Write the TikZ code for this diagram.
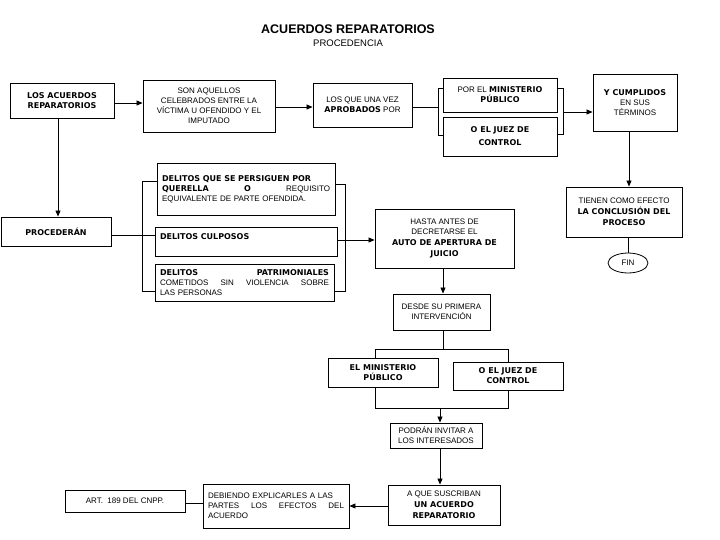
\documentclass[tikz,border=0pt]{standalone}
\usepackage{fontspec}
\setmainfont[BoldFont={DejaVu Sans Bold}]{Liberation Sans}
\usetikzlibrary{arrows.meta,shapes.geometric}
\tikzset{
  box/.style={draw, line width=0.9pt, fill=white, inner sep=2pt, font=\fontsize{8}{10}\selectfont, align=center},
  conn/.style={line width=0.8pt},
  arr/.style={line width=0.8pt, -{Triangle[length=6pt,width=5pt]}}
}
\begin{document}
\begin{tikzpicture}[x=1pt,y=-1pt]
\useasboundingbox (0,0) rectangle (720,540);
% title
\node[font=\fontsize{12.5}{14}\selectfont] (t1) at (348,29) {\fontspec{Liberation Sans Bold}ACUERDOS REPARATORIOS};
\node[font=\fontsize{9.5}{11}\selectfont] (t2) at (348,43) {PROCEDENCIA};

% bracket coordinates
\coordinate (bl1) at (438,88); \coordinate (bl2) at (438,135);
\coordinate (br1) at (563,88); \coordinate (br2) at (563,134);
\coordinate (dl1) at (142,181); \coordinate (dl2) at (142,291);
\coordinate (dr1) at (345,184); \coordinate (dr2) at (345,291);
\coordinate (ml1) at (375,349); \coordinate (ml2) at (375,408);
\coordinate (mr1) at (508,349); \coordinate (mr2) at (508,408);

% brackets drawn first (behind boxes)
\draw[conn] (448,88) -- (bl1) -- (bl2) -- (448,135);
\draw[conn] (552,88) -- (br1) -- (br2) -- (552,134);
\draw[conn] (160,181) -- (dl1) -- (dl2) -- (160,291);
\draw[conn] (330,184) -- (dr1) -- (dr2) -- (330,291);
\draw[conn] (ml1) -- (mr1);
\draw[conn] (ml1) -- (ml2) -- (mr2) -- (mr1);

% nodes
\node[box, minimum width=104pt, minimum height=35pt] (a) at (62,100.5) {\textbf{LOS ACUERDOS}\\\textbf{REPARATORIOS}};
\node[box, minimum width=132pt, minimum height=52pt] (b) at (209,106) {SON AQUELLOS\\CELEBRADOS ENTRE LA\\VÍCTIMA U OFENDIDO Y EL\\IMPUTADO};
\node[box, minimum width=99pt, minimum height=44pt] (c) at (362.5,105) {LOS QUE UNA VEZ\\\textbf{APROBADOS} POR};
\node[box, minimum width=114pt, minimum height=34pt] (d) at (500,95) {POR EL \textbf{MINISTERIO}\\\textbf{PÚBLICO}};
\node[box, minimum width=114pt, minimum height=39pt] (e) at (500,136.5) {\textbf{O EL JUEZ DE}\\[3pt]\textbf{CONTROL}};
\node[box, minimum width=84pt, minimum height=57pt] (f) at (635,102.5) {\textbf{Y CUMPLIDOS}\\EN SUS\\TÉRMINOS};
\node[box, minimum width=116pt, minimum height=50pt] (g) at (624,212) {TIENEN COMO EFECTO\\[1pt]\textbf{LA CONCLUSIÓN DEL}\\[1pt]\textbf{PROCESO}};
\node[box, ellipse, line width=0.8pt, minimum width=40pt, minimum height=20pt, inner sep=0pt] (fin) at (628,263) {FIN};
\node[box, minimum width=110pt, minimum height=29pt] (h) at (56,231.5) {\textbf{PROCEDERÁN}};
\node[box, minimum width=178pt, minimum height=52pt, text width=168pt, align=left] (i) at (246,189) {\textbf{DELITOS QUE SE PERSIGUEN POR}\\\textbf{QUERELLA}\hfill\textbf{O}\hfill REQUISITO\\EQUIVALENTE DE PARTE OFENDIDA.};
\node[box, minimum width=182pt, minimum height=29pt, text width=172pt, align=left] (j) at (246,241.5) {\textbf{DELITOS CULPOSOS}\\\mbox{}};
\node[box, minimum width=179pt, minimum height=37pt, text width=169pt, align=left] (k) at (244.5,282.5) {\textbf{DELITOS}\hfill\textbf{PATRIMONIALES}\\COMETIDOS\hfill SIN\hfill VIOLENCIA\hfill SOBRE\\LAS PERSONAS};
\node[box, minimum width=139pt, minimum height=59pt] (l) at (444.5,238.5) {HASTA ANTES DE\\DECRETARSE EL\\[1pt]\textbf{AUTO DE APERTURA DE}\\[1pt]\textbf{JUICIO}};
\node[box, minimum width=97pt, minimum height=36pt] (m) at (441.5,312) {DESDE SU PRIMERA\\INTERVENCIÓN};
\node[box, minimum width=110pt, minimum height=29pt] (n) at (383,372.5) {\textbf{EL MINISTERIO}\\\textbf{PÚBLICO}};
\node[box, minimum width=110pt, minimum height=28pt] (o) at (508,376) {\textbf{O EL JUEZ DE}\\\textbf{CONTROL}};
\node[box, minimum width=92pt, minimum height=25pt] (p) at (436,435.5) {PODRÁN INVITAR A\\LOS INTERESADOS};
\node[box, minimum width=112pt, minimum height=40pt] (q) at (444,505) {A QUE SUSCRIBAN\\[1pt]\textbf{UN ACUERDO}\\[1pt]\textbf{REPARATORIO}};
\node[box, minimum width=146pt, minimum height=44pt, text width=136pt, align=left] (r) at (276,506) {DEBIENDO EXPLICARLES A LAS\\PARTES\hfill LOS\hfill EFECTOS\hfill DEL\\ACUERDO};
\node[box, minimum width=120pt, minimum height=22pt] (s) at (125,501) {ART.\ \ 189 DEL CNPP.};

% connectors
\draw[arr] (a.east |- 0,103) -- (b.west |- 0,103);
\draw[arr] (b.east |- 0,107) -- (c.west |- 0,107);
\draw[conn] (c.east |- 0,107) -- (bl1 |- 0,107);
\draw[arr] (br1 |- 0,112) -- (f.west |- 0,112);
\draw[arr] (629,0 |- f.south) -- (629,0 |- g.north);
\draw[conn] (628,0 |- g.south) -- (fin.north);
\draw[arr] (58,0 |- a.south) -- (58,0 |- h.north);
\draw[conn] (h.east |- 0,235) -- (j.west |- 0,235);
\draw[arr] (j.east |- 0,240) -- (l.west |- 0,240);
\draw[arr] (443,0 |- l.south) -- (443,0 |- m.north);
\draw[conn] (443,0 |- m.south) -- (443,0 |- ml1);
\draw[arr] (440,0 |- ml2) -- (440,0 |- p.north);
\draw[arr] (440,0 |- p.south) -- (440,0 |- q.north);
\draw[arr] (q.west |- 0,506) -- (r.east |- 0,506);
\draw[conn] (r.west |- 0,503) -- (s.east |- 0,503);
\end{tikzpicture}
\end{document}
